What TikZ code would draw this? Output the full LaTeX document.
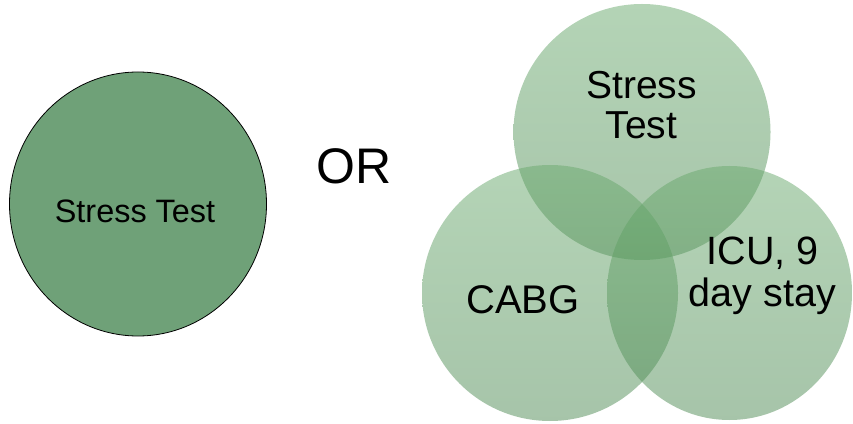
\documentclass[tikz,border=0pt]{standalone}
\usepackage{fontspec}
\setmainfont{Liberation Sans}

\definecolor{solidgreen}{RGB}{111,161,120}
\definecolor{venntop}{RGB}{105,169,109}
\definecolor{vennbottom}{RGB}{78,138,84}

\tikzset{
    venn/.style={top color=venntop, bottom color=vennbottom, fill opacity=0.5, draw=none},
    bigtext/.style={font=\fontsize{#1}{#1}\selectfont, text=black}
}

\begin{document}
\begin{tikzpicture}[x=1pt,y=1pt]
\useasboundingbox (0,0) rectangle (853,423);
% one stress test on its own
\draw [line width=0.8pt, black, fill=solidgreen] (138,219) ellipse [x radius=128.5, y radius=132];
\node [bigtext=32.4, anchor=base] (single) at (135,200.3) {Stress Test};
\node [bigtext=50, anchor=base] (or) at (354,239.7) {OR};
% three overlapping circles
\foreach \cx/\cy/\rx/\ry in {642/291/128.5/128, 550/130/128/128, 729.5/130/122.5/127} {
    \shade [venn] (\cx,\cy) ellipse [x radius=\rx, y radius=\ry];
}
\node [font=\fontsize{39}{40}\selectfont, align=center] (stress) at (641.5,317.5) {Stress\\Test};
\node [bigtext=40, anchor=base] (cabg) at (523,110) {CABG};
\node [font=\fontsize{39.5}{42}\selectfont, align=center] (icu) at (762.5,147.5) {ICU, 9\\day stay};
\end{tikzpicture}
\end{document}
